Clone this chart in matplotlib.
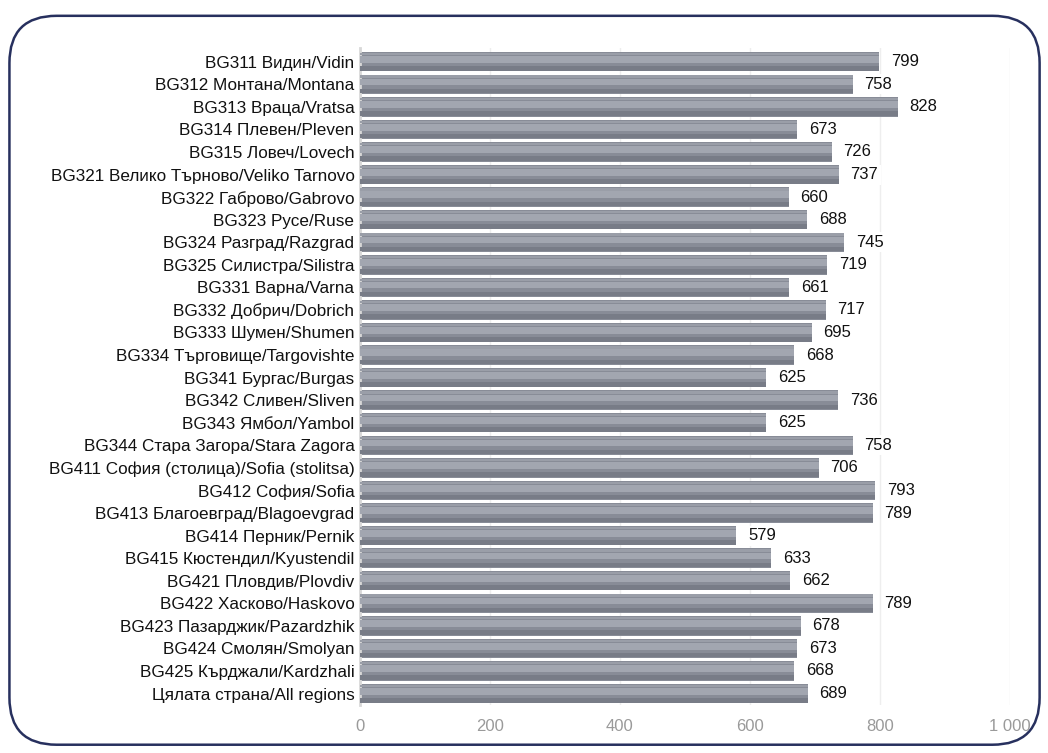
import matplotlib
matplotlib.use("Agg")
import matplotlib.pyplot as plt
import matplotlib.ticker as ticker
from matplotlib.patches import FancyBboxPatch

plt.rcParams['font.family'] = ['Liberation Sans', 'DejaVu Sans']

regions = [
    "BG311 Видин/Vidin", "BG312 Монтана/Montana", "BG313 Враца/Vratsa",
    "BG314 Плевен/Pleven", "BG315 Ловеч/Lovech",
    "BG321 Велико Търново/Veliko Tarnovo", "BG322 Габрово/Gabrovo",
    "BG323 Русе/Ruse", "BG324 Разград/Razgrad", "BG325 Силистра/Silistra",
    "BG331 Варна/Varna", "BG332 Добрич/Dobrich", "BG333 Шумен/Shumen",
    "BG334 Търговище/Targovishte", "BG341 Бургас/Burgas",
    "BG342 Сливен/Sliven", "BG343 Ямбол/Yambol",
    "BG344 Стара Загора/Stara Zagora",
    "BG411 София (столица)/Sofia (stolitsa)", "BG412 София/Sofia",
    "BG413 Благоевград/Blagoevgrad", "BG414 Перник/Pernik",
    "BG415 Кюстендил/Kyustendil", "BG421 Пловдив/Plovdiv",
    "BG422 Хасково/Haskovo", "BG423 Пазарджик/Pazardzhik",
    "BG424 Смолян/Smolyan", "BG425 Кърджали/Kardzhali",
    "Цялата страна/All regions",
]
values = [799, 758, 828, 673, 726, 737, 660, 688, 745, 719, 661, 717, 695,
          668, 625, 736, 625, 758, 706, 793, 789, 579, 633, 662, 789, 678,
          673, 668, 689]
xticks = [0, 200, 400, 600, 800, 1000]

fig = plt.figure(figsize=(10.48, 7.53), dpi=100)

# rounded outer frame, kept behind the axes
frame = FancyBboxPatch((0.009, 0.011), 0.983, 0.968,
                       boxstyle="round,pad=0,rounding_size=0.045",
                       transform=fig.transFigure, facecolor="white",
                       edgecolor="#27305e", linewidth=1.8, zorder=-5,
                       mutation_aspect=1048 / 753)
fig.add_artist(frame)

ax = fig.add_axes([0.3435, 0.064, 0.62, 0.872], zorder=1)
ax.set_facecolor("none")

pos = list(range(len(regions)))
ax.barh(pos, values, height=0.86, color="#888c97", edgecolor="none", zorder=2)
# lighter bands for a rounded look
ax.barh([p - 0.1 for p in pos], values, height=0.3, color="#a2a6b0",
        edgecolor="none", zorder=3)
ax.barh([p - 0.34 for p in pos], values, height=0.1, color="#9a9ea8",
        edgecolor="none", zorder=3)
ax.barh([p + 0.3 for p in pos], values, height=0.2, color="#787c87",
        edgecolor="none", zorder=3)

for p, v in zip(pos, values):
    ax.text(v + 18, p, str(v), va="center", ha="left", fontsize=12,
            color="#111111", zorder=5,
            bbox=dict(boxstyle="square,pad=0.15", facecolor="white",
                      edgecolor="none"))

ax.set_yticks(pos)
ax.set_yticklabels(regions, fontsize=12.3, color="#111111")
ax.set_ylim(len(regions) - 0.5, -0.6)
ax.set_xlim(0, 1000)
ax.set_xticks(xticks)
ax.xaxis.set_major_formatter(
    ticker.FuncFormatter(lambda v, _: f"{int(v):,}".replace(",", " ")))
ax.tick_params(axis="x", labelsize=12, colors="#9a9a9a", length=0, pad=10)
ax.tick_params(axis="y", length=0, pad=4)

ax.grid(axis="x", color="#eeeeee", linewidth=1, zorder=0)
for side in ["top", "right", "bottom"]:
    ax.spines[side].set_visible(False)
ax.spines["left"].set_color("#d8d8d8")
ax.spines["left"].set_linewidth(2)

fig.savefig("out.png", dpi=100)
